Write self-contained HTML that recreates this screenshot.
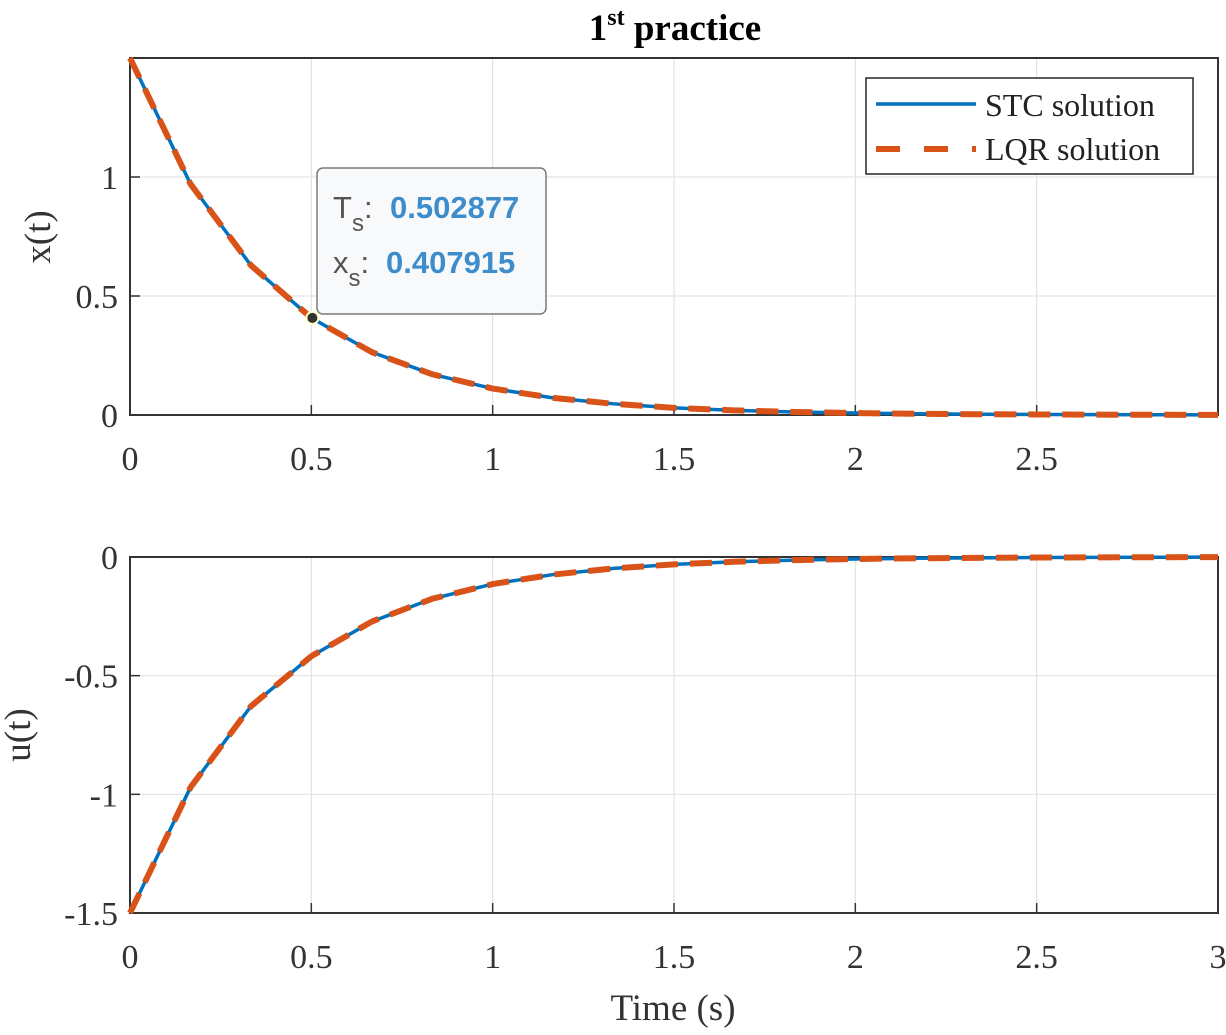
<!DOCTYPE html>
<html><head><meta charset="utf-8"><style>
body{margin:0;background:#fff}
svg text{font-family:"Liberation Serif",serif;fill:#333}
</style></head><body>
<svg id="chart" width="1226" height="1030" xmlns="http://www.w3.org/2000/svg">
<text x="675" y="40" text-anchor="middle" font-size="37" font-weight="bold" style="fill:#000">1<tspan font-size="24" dy="-15">st</tspan><tspan dy="15"> practice</tspan></text>
<g id="top"></g>
<g id="bot"></g>
<text x="673" y="1020" text-anchor="middle" font-size="37">Time (s)</text>
<text transform="translate(50,237) rotate(-90)" text-anchor="middle" font-size="37">x(t)</text>
<text transform="translate(30,735) rotate(-90)" text-anchor="middle" font-size="37">u(t)</text>
<g>
<rect x="866" y="78" width="327" height="96" fill="#fff" stroke="#262626" stroke-width="1.5"/>
<line x1="876" y1="104" x2="976" y2="104" stroke="#0072BD" stroke-width="3.5"/>
<text x="985" y="116" font-size="32" style="fill:#222">STC solution</text>
<line x1="876" y1="149" x2="976" y2="149" stroke="#D95319" stroke-width="6" stroke-dasharray="24 24"/>
<text x="985" y="160" font-size="32" style="fill:#222">LQR solution</text>
</g>
<g>
<rect x="317" y="168" width="229" height="146" rx="6" fill="#f8f9fb" stroke="#7a7a7a" stroke-width="1.5"/>
<text x="333" y="218" font-size="31" style="font-family:'Liberation Sans',sans-serif;fill:#555">T<tspan font-size="24" dy="13">s</tspan><tspan dy="-13">:</tspan><tspan x="390" font-weight="bold" style="fill:#3d8ccc">0.502877</tspan></text>
<text x="333" y="273" font-size="31" style="font-family:'Liberation Sans',sans-serif;fill:#555">x<tspan font-size="24" dy="13">s</tspan><tspan dy="-13">:</tspan><tspan x="386" font-weight="bold" style="fill:#3d8ccc">0.407915</tspan></text>
</g>
<circle id="tipdot" r="6" fill="#333" stroke="#ffffc0" stroke-width="2"/>
</svg>
<script>
const times=[0,0.1667,0.3333,0.5,0.6667,0.8333,1,1.1667,1.3333,1.5,1.6667,1.8333,2,2.1667,2.3333,2.5,2.6667,2.8333,3];
const xValues=[1.5,0.971,0.629,0.408,0.264,0.171,0.111,0.072,0.047,0.030,0.0195,0.0126,0.0082,0.0053,0.0034,0.0022,0.0014,0.0009,0.0006];
const uValues=[-1.5,-0.971,-0.629,-0.418,-0.272,-0.176,-0.114,-0.074,-0.048,-0.031,-0.020,-0.013,-0.0084,-0.0054,-0.0035,-0.0023,-0.0015,-0.0009,-0.0006];
const xTicksTop=[0,0.5,1,1.5,2,2.5];
const xTicksBot=[0,0.5,1,1.5,2,2.5,3];
const yTicksTop=[0,0.5,1];
const yTicksBot=[0,-0.5,-1,-1.5];
const tipT=0.502877, tipX=0.407915;
const NS='http://www.w3.org/2000/svg';
const X0=130,X1=1218;
const sx=t=>X0+(X1-X0)*t/3;
function mk(p,tag,a){const e=document.createElementNS(NS,tag);for(const k in a)e.setAttribute(k,a[k]);p.appendChild(e);return e;}
function axes(g,top,bot,ymin,ymax,xt,yt,xs,ys){
 const sy=v=>bot-(bot-top)*(v-ymin)/(ymax-ymin);
 xt.forEach(t=>{const l=mk(g,'line',{x1:sx(t),x2:sx(t),y1:top,y2:bot,stroke:'#e3e3e3','stroke-width':1.2});
 
 
 const tx=mk(g,'text',{x:sx(t),y:bot+55,'text-anchor':'middle','font-size':34});tx.textContent=t;
 
 
 mk(g,'line',{x1:sx(t),x2:sx(t),y1:bot,y2:bot-10,stroke:'#333','stroke-width':1.5});});
 yt.forEach(v=>{const l=mk(g,'line',{x1:X0,x2:X1,y1:sy(v),y2:sy(v),stroke:'#e3e3e3','stroke-width':1.2});
 
 
 const tx=mk(g,'text',{x:X0-12,y:sy(v)+12,'text-anchor':'end','font-size':34});tx.textContent=v;
 
 
 mk(g,'line',{x1:X0,x2:X0+10,y1:sy(v),y2:sy(v),stroke:'#333','stroke-width':1.5});});
 const b=mk(g,'rect',{x:X0,y:top,width:X1-X0,height:bot-top,fill:'none',stroke:'#333','stroke-width':2});
 
 
 const pts=times.map((t,i)=>sx(t)+','+sy(ys[i])).join(' ');
 const s=mk(g,'polyline',{points:pts,fill:'none',stroke:'#0072BD','stroke-width':3.5});
 
 
 const q=mk(g,'polyline',{points:pts,fill:'none',stroke:'#D95319','stroke-width':6,'stroke-dasharray':'22 12'});
 
 
 return sy;
}
const syT=axes(document.getElementById('top'),58,415,0,1.5,xTicksTop,yTicksTop,null,xValues);
axes(document.getElementById('bot'),557,913,-1.5,0,xTicksBot,yTicksBot,null,uValues);
const d=document.getElementById('tipdot');d.setAttribute('cx',sx(tipT));d.setAttribute('cy',syT(tipX));
document.getElementById('chart').appendChild(d);
</script>
</body></html>
